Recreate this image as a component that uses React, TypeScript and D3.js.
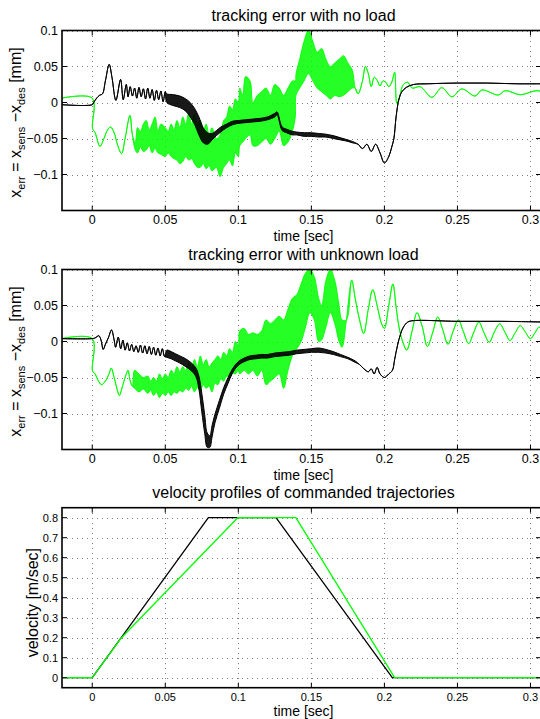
import * as d3 from "d3";

// [t, lo, hi?] : hi omitted where the trace is a single thin line
type Row = [number, number, number?];

const timeTicks = [0, 0.05, 0.1, 0.15, 0.2, 0.25, 0.3];
const timeLabels = ["0", "0.05", "0.1", "0.15", "0.2", "0.25", "0.3"];
const errTicks = [-0.1, -0.05, 0, 0.05, 0.1];
const errLabels = ["\u22120.1", "\u22120.05", "0", "0.05", "0.1"];
const velTicks = [0, 0.1, 0.2, 0.3, 0.4, 0.5, 0.6, 0.7, 0.8];
const velLabels = ["0", "0.1", "0.2", "0.3", "0.4", "0.5", "0.6", "0.7", "0.8"];

const timeLimits = [-0.0207, 0.3072];
const errLimits = [-0.15, 0.1];
const velLimits = [-0.05, 0.85];

// tracking error, no load
const noLoadGreen: Row[] = [
  [-0.021, 0.006], [0, 0.006], [0.0002, -0.036], [0.002, -0.042], [0.0053, -0.061],
  [0.008, -0.05], [0.0105, -0.038], [0.0125, -0.034], [0.015, -0.042], [0.0175, -0.06],
  [0.0201, -0.071], [0.0225, -0.05], [0.0258, -0.018], [0.0275, -0.045], [0.0295, -0.066, -0.055],
  [0.031, -0.07, -0.035], [0.033, -0.062, -0.04], [0.035, -0.068, -0.03], [0.037, -0.066, -0.025],
  [0.039, -0.06, -0.038], [0.041, -0.07, -0.03], [0.043, -0.064, -0.02], [0.045, -0.07, -0.04],
  [0.047, -0.072, -0.03], [0.05, -0.075, -0.035], [0.052, -0.07, -0.04], [0.054, -0.075, -0.03],
  [0.056, -0.078, -0.038], [0.058, -0.08, -0.025], [0.06, -0.085, -0.035], [0.062, -0.082, -0.02],
  [0.064, -0.075, -0.03], [0.066, -0.08, -0.015], [0.068, -0.078, -0.03], [0.07, -0.085, -0.015],
  [0.072, -0.09, -0.03], [0.074, -0.09, -0.025], [0.076, -0.085, -0.04], [0.078, -0.092, -0.03],
  [0.08, -0.088, -0.045], [0.082, -0.095, -0.035], [0.085, -0.09, -0.05], [0.0875, -0.103, -0.045],
  [0.09, -0.09, -0.025], [0.092, -0.085, -0.02], [0.094, -0.08, -0.005], [0.096, -0.088, -0.01],
  [0.098, -0.07, 0.005], [0.1, -0.075, 0.0], [0.101, -0.06, 0.02], [0.103, -0.055, 0.01],
  [0.105, -0.05, 0.036], [0.108, -0.045, 0.03], [0.11, -0.06, 0.0], [0.113, -0.06, 0.01],
  [0.116, -0.055, 0.015], [0.119, -0.05, 0.02], [0.122, -0.058, 0.01], [0.125, -0.05, 0.025],
  [0.128, -0.04, 0.02], [0.131, -0.06, 0.01], [0.134, -0.055, 0.02], [0.137, -0.04, 0.03],
  [0.139, -0.02, 0.03], [0.1395, 0.01, 0.04], [0.142, 0.02, 0.06], [0.145, 0.03, 0.085],
  [0.148, 0.04, 0.1], [0.151, 0.03, 0.085], [0.154, 0.02, 0.07], [0.157, 0.015, 0.075],
  [0.16, 0.01, 0.06], [0.163, 0.005, 0.05], [0.166, 0.01, 0.055], [0.169, 0.008, 0.06],
  [0.172, 0.01, 0.065], [0.175, 0.015, 0.055], [0.178, 0.02, 0.045], [0.18, 0.02],
  [0.182, 0.012], [0.185, 0.03], [0.187, 0.05], [0.189, 0.04], [0.191, 0.022], [0.193, 0.035],
  [0.195, 0.031], [0.197, 0.023], [0.199, 0.03], [0.201, 0.028], [0.203, 0.022], [0.205, 0.028],
  [0.207, 0.042], [0.2085, -0.001], [0.21, 0.005], [0.213, 0.025], [0.216, 0.028], [0.219, 0.02],
  [0.2245, 0.022], [0.2325, 0.0072], [0.2393, 0.0206], [0.2462, 0.008], [0.253, 0.0188],
  [0.2621, 0.009], [0.2667, 0.0174], [0.278, 0.0104], [0.2827, 0.0164], [0.293, 0.0108],
  [0.3044, 0.0164], [0.31, 0.013],
];

const noLoadBlack: Row[] = [
  [-0.021, -0.003], [0, -0.003], [0.001, 0.0], [0.003, 0.006], [0.005, 0.01], [0.007, 0.012],
  [0.009, 0.03], [0.0116, 0.053], [0.0135, 0.035], [0.0162, 0.003], [0.0194, 0.032],
  [0.0212, 0.004], [0.0233, 0.025], [0.0245, 0.008], [0.026, 0.022], [0.0275, 0.009],
  [0.029, 0.02], [0.0305, 0.006], [0.032, 0.021], [0.0335, 0.008], [0.035, 0.019], [0.0365, 0.005],
  [0.038, 0.02], [0.0395, 0.006], [0.041, 0.018], [0.0425, 0.003], [0.044, 0.017], [0.0455, 0.004],
  [0.047, 0.016], [0.0485, 0.001], [0.05, 0.015], [0.051, 0.0, 0.012], [0.055, -0.004, 0.011],
  [0.06, -0.007, 0.009], [0.064, -0.012, 0.005], [0.067, -0.02, 0.0], [0.07, -0.03, -0.008],
  [0.073, -0.045, -0.02], [0.076, -0.056, -0.035], [0.079, -0.058, -0.042], [0.082, -0.052, -0.043],
  [0.085, -0.046, -0.039], [0.088, -0.041, -0.034], [0.092, -0.035, -0.03], [0.096, -0.031, -0.026],
  [0.1, -0.029, -0.025], [0.105, -0.028, -0.024], [0.11, -0.027, -0.023], [0.115, -0.026, -0.022],
  [0.12, -0.024, -0.02], [0.125, -0.02, -0.015], [0.1265, -0.017, -0.013], [0.13, -0.039, -0.034],
  [0.133, -0.042, -0.037], [0.137, -0.045, -0.04], [0.14, -0.045, -0.041], [0.145, -0.047, -0.042],
  [0.15, -0.047, -0.042], [0.155, -0.048, -0.043], [0.16, -0.048, -0.044], [0.165, -0.05, -0.046],
  [0.17, -0.052, -0.049], [0.175, -0.054, -0.052], [0.178, -0.056, -0.054], [0.182, -0.058],
  [0.185, -0.064], [0.188, -0.058], [0.191, -0.068], [0.194, -0.058], [0.197, -0.07],
  [0.2, -0.084], [0.203, -0.075], [0.205, -0.062], [0.2065, -0.05], [0.208, -0.02],
  [0.21, 0.005], [0.212, 0.015], [0.215, 0.021], [0.22, 0.025], [0.23, 0.026], [0.25, 0.027],
  [0.27, 0.027], [0.29, 0.026], [0.31, 0.026],
];

// tracking error, unknown load
const loadGreen: Row[] = [
  [-0.021, 0.004], [0, 0.004], [0.0002, -0.041], [0.002, -0.045], [0.004, -0.054], [0.0064, -0.06],
  [0.009, -0.055], [0.0115, -0.045], [0.013, -0.037], [0.015, -0.05], [0.0175, -0.07],
  [0.0186, -0.075], [0.021, -0.06], [0.0235, -0.044], [0.0245, -0.04], [0.026, -0.055],
  [0.0275, -0.062], [0.029, -0.065, -0.04], [0.032, -0.07, -0.045], [0.035, -0.066, -0.05],
  [0.038, -0.072, -0.048], [0.04, -0.068, -0.055], [0.042, -0.075, -0.05], [0.044, -0.07, -0.055],
  [0.046, -0.078, -0.045], [0.048, -0.072, -0.052], [0.05, -0.075, -0.045], [0.052, -0.07, -0.05],
  [0.054, -0.075, -0.04], [0.056, -0.07, -0.045], [0.058, -0.072, -0.035], [0.06, -0.068, -0.042],
  [0.062, -0.07, -0.035], [0.064, -0.065, -0.04], [0.066, -0.068, -0.03], [0.068, -0.062, -0.038],
  [0.07, -0.07, -0.025], [0.072, -0.064, -0.035], [0.074, -0.068, -0.02], [0.076, -0.06, -0.032],
  [0.078, -0.065, -0.025], [0.08, -0.062, -0.035], [0.082, -0.07, -0.03], [0.084, -0.058, -0.025],
  [0.086, -0.06, -0.02], [0.088, -0.052, -0.025], [0.09, -0.055, -0.015], [0.092, -0.048, -0.02],
  [0.094, -0.05, -0.01], [0.096, -0.044, -0.015], [0.098, -0.045, 0.0], [0.1, -0.04, -0.005],
  [0.101, -0.045, 0.015], [0.104, -0.04, 0.018], [0.107, -0.045, 0.01], [0.11, -0.04, 0.012],
  [0.113, -0.048, 0.01], [0.116, -0.04, 0.015], [0.119, -0.06, 0.03], [0.122, -0.055, 0.025],
  [0.125, -0.05, 0.03], [0.128, -0.045, 0.035], [0.131, -0.065, 0.03], [0.134, -0.04, 0.045],
  [0.137, -0.02, 0.06], [0.14, -0.01, 0.065], [0.143, 0.0, 0.08], [0.146, 0.02, 0.095],
  [0.149, 0.04, 0.1], [0.152, 0.03, 0.09], [0.155, 0.0, 0.06], [0.157, 0.002, 0.05],
  [0.16, 0.02, 0.085], [0.163, 0.04, 0.1], [0.166, 0.025, 0.085], [0.169, 0.0, 0.05],
  [0.171, -0.008, 0.03], [0.174, 0.03], [0.1776, 0.085], [0.18, 0.06], [0.183, 0.03],
  [0.1858, 0.011], [0.189, 0.045], [0.192, 0.072], [0.195, 0.05], [0.198, 0.025], [0.2, 0.018],
  [0.203, 0.05], [0.2058, 0.08], [0.208, 0.048], [0.21, 0.02], [0.2125, 0.0], [0.2153, -0.012],
  [0.219, 0.015], [0.2223, 0.04], [0.226, 0.02], [0.2294, -0.007], [0.233, 0.012], [0.2365, 0.034],
  [0.24, 0.016], [0.2435, -0.004], [0.247, 0.014], [0.2506, 0.03], [0.254, 0.014], [0.2577, -0.003],
  [0.261, 0.012], [0.2647, 0.027], [0.268, 0.013], [0.2718, -0.001], [0.275, 0.012], [0.2789, 0.0245],
  [0.2825, 0.013], [0.286, 0.0014], [0.2895, 0.012], [0.293, 0.022], [0.2965, 0.013], [0.3, 0.004],
  [0.303, 0.012], [0.306, 0.02], [0.31, 0.01],
];

const loadBlack: Row[] = [
  [-0.021, 0.004], [0, 0.004], [0.002, 0.005], [0.0045, 0.008], [0.006, 0.002], [0.0075, -0.011],
  [0.009, -0.004], [0.011, 0.005], [0.0132, 0.016], [0.015, 0.002], [0.016, -0.008], [0.0178, 0.006],
  [0.0195, -0.01], [0.021, 0.002], [0.0225, -0.012], [0.024, -0.002], [0.0255, -0.013],
  [0.027, -0.004], [0.0285, -0.014], [0.03, -0.006], [0.0315, -0.015], [0.033, -0.005],
  [0.0345, -0.016], [0.036, -0.006], [0.0375, -0.017], [0.039, -0.007], [0.0405, -0.018],
  [0.042, -0.008], [0.0435, -0.019], [0.045, -0.009], [0.0465, -0.02], [0.048, -0.01],
  [0.0495, -0.021], [0.051, -0.022, -0.012], [0.054, -0.024, -0.014], [0.057, -0.027, -0.017],
  [0.06, -0.03, -0.02], [0.064, -0.035, -0.024], [0.068, -0.041, -0.03], [0.071, -0.049, -0.037],
  [0.073, -0.066, -0.048], [0.075, -0.098, -0.072], [0.077, -0.128, -0.102], [0.0787, -0.147, -0.127],
  [0.0805, -0.147, -0.131], [0.082, -0.133, -0.117], [0.084, -0.113, -0.101], [0.087, -0.093, -0.082],
  [0.09, -0.073, -0.064], [0.093, -0.058, -0.05], [0.096, -0.044, -0.038], [0.1, -0.033, -0.028],
  [0.104, -0.028, -0.023], [0.108, -0.025, -0.02], [0.112, -0.024, -0.019], [0.116, -0.023, -0.018],
  [0.12, -0.023, -0.018], [0.125, -0.021, -0.016], [0.13, -0.02, -0.015], [0.135, -0.019, -0.014],
  [0.14, -0.017, -0.012], [0.145, -0.016, -0.011], [0.15, -0.015, -0.01], [0.155, -0.015, -0.009],
  [0.16, -0.016, -0.011], [0.165, -0.018, -0.014], [0.17, -0.021, -0.018], [0.175, -0.024, -0.022],
  [0.18, -0.029, -0.027], [0.183, -0.032], [0.186, -0.038], [0.189, -0.042], [0.191, -0.038],
  [0.193, -0.045], [0.195, -0.036], [0.197, -0.045], [0.2, -0.05], [0.203, -0.045], [0.2055, -0.04],
  [0.207, -0.025], [0.209, -0.005], [0.211, 0.01], [0.213, 0.02], [0.216, 0.027], [0.22, 0.029],
  [0.25, 0.028], [0.28, 0.028], [0.31, 0.027],
];

// commanded velocity profiles
const velBlack: Row[] = [
  [-0.021, 0], [0, 0], [0.0795, 0.8], [0.1258, 0.8], [0.2054, 0], [0.31, 0],
];
const velGreen: Row[] = [
  [-0.021, 0], [0, 0], [0.02, 0.2], [0.0996, 0.8], [0.1394, 0.8], [0.207, 0], [0.31, 0],
];

const FONT = "'Liberation Sans', Arial, Helvetica, sans-serif";
const GREEN = "#00ff00";
const LEFT = 62;
const RIGHT = 541;
const PH = 180;

type Series = { rows: Row[]; color: string; width: number; fillOpacity: number; smooth: boolean };

type PanelProps = {
  id: string;
  top: number;
  title: string;
  yLimits: number[];
  yTicks: number[];
  yLabels: string[];
  tickSize: number;
  xlabelGap: number;
  series: Series[];
  ylabel: React.ReactNode;
};

function Panel({ id, top, title, yLimits, yTicks, yLabels, tickSize, xlabelGap, series, ylabel }: PanelProps) {
  const bottom = top + PH;
  const x = d3.scaleLinear().domain(timeLimits).range([LEFT, RIGHT]);
  const y = d3.scaleLinear().domain(yLimits).range([bottom, top]);
  const cx = (LEFT + 545) / 2;

  const areaOf = (s: Series) =>
    d3
      .area<Row>()
      .x((d) => x(d[0]))
      .y0((d) => y(d[1]))
      .y1((d) => y(d[2] ?? d[1]))
      .curve(s.smooth ? d3.curveCatmullRom.alpha(0.5) : d3.curveLinear)(s.rows) || "";

  return (
    <g fontFamily={FONT}>
      <clipPath id={id}>
        <rect x={LEFT} y={top} width={RIGHT - LEFT} height={PH} />
      </clipPath>

      {/* dotted grid */}
      <g stroke="#808080" strokeWidth={1} strokeDasharray="1,4" shapeRendering="crispEdges">
        {timeTicks.map((t) => (
          <line key={"gx" + t} x1={Math.round(x(t)) + 0.5} x2={Math.round(x(t)) + 0.5} y1={top} y2={bottom} />
        ))}
        {yTicks.map((v) => (
          <line key={"gy" + v} x1={LEFT} x2={RIGHT} y1={Math.round(y(v)) + 0.5} y2={Math.round(y(v)) + 0.5} />
        ))}
      </g>

      <g clipPath={`url(#${id})`}>
        {series.map((s, i) => (
          <path
            key={i}
            d={areaOf(s)}
            fill={s.color}
            fillOpacity={s.fillOpacity}
            stroke={s.color}
            strokeWidth={s.width}
            strokeLinejoin="round"
          />
        ))}
      </g>

      {/* box and inward ticks */}
      <rect x={LEFT} y={top} width={RIGHT - LEFT} height={PH} fill="none" stroke="#000" strokeWidth={1.6} />
      <g stroke="#000" strokeWidth={1}>
        {timeTicks.map((t) => (
          <g key={"tx" + t}>
            <line x1={x(t)} x2={x(t)} y1={bottom} y2={bottom - 5} />
            <line x1={x(t)} x2={x(t)} y1={top} y2={top + 5} />
          </g>
        ))}
        {yTicks.map((v) => (
          <g key={"ty" + v}>
            <line x1={LEFT} x2={LEFT + 5} y1={y(v)} y2={y(v)} />
            <line x1={RIGHT} x2={RIGHT - 5} y1={y(v)} y2={y(v)} />
          </g>
        ))}
      </g>

      {/* tick labels */}
      <g fontSize={tickSize} fill="#000">
        {timeTicks.map((t, i) => (
          <text key={"lx" + t} x={x(t)} y={bottom + 13.5} textAnchor="middle">
            {timeLabels[i]}
          </text>
        ))}
        {yTicks.map((v, i) => (
          <text key={"ly" + v} x={LEFT - 4} y={y(v)} dy="0.36em" textAnchor="end">
            {yLabels[i]}
          </text>
        ))}
      </g>

      <text x={cx} y={top - 10} textAnchor="middle" fontSize={16}>
        {title}
      </text>
      <text x={cx} y={bottom + xlabelGap} textAnchor="middle" fontSize={14}>
        time [sec]
      </text>
      {ylabel}
    </g>
  );
}

function ErrLabel({ cy }: { cy: number }) {
  return (
    <text transform={`translate(21,${cy}) rotate(-90)`} textAnchor="middle" fontSize={16} fontFamily={FONT}>
      x<tspan fontSize={11} dy={4}>err</tspan>
      <tspan dy={-4}> = x</tspan>
      <tspan fontSize={11} dy={4}>sens</tspan>
      <tspan dy={-4}> {"\u2212"}x</tspan>
      <tspan fontSize={11} dy={4}>des</tspan>
      <tspan dy={-4}> [mm]</tspan>
    </text>
  );
}

export default function App() {
  const tops = [30.5, 269.5, 507.7];
  return (
    <svg
      width={540}
      height={719}
      viewBox="0 0 540 719"
      style={{ position: "absolute", left: 0, top: 0, background: "#fff" }}
    >
      <rect width={540} height={719} fill="#fff" />
      <Panel
        id="clipA"
        top={tops[0]}
        title="tracking error with no load"
        yLimits={errLimits}
        yTicks={errTicks}
        yLabels={errLabels}
        tickSize={12.5}
        xlabelGap={30}
        series={[
          { rows: noLoadGreen, color: GREEN, width: 0.9, fillOpacity: 0.85, smooth: true },
          { rows: noLoadBlack, color: "#000", width: 1, fillOpacity: 0.9, smooth: true },
        ]}
        ylabel={<ErrLabel cy={tops[0] + 92} />}
      />
      <Panel
        id="clipB"
        top={tops[1]}
        title="tracking error with unknown load"
        yLimits={errLimits}
        yTicks={errTicks}
        yLabels={errLabels}
        tickSize={12.5}
        xlabelGap={30}
        series={[
          { rows: loadGreen, color: GREEN, width: 0.9, fillOpacity: 0.85, smooth: true },
          { rows: loadBlack, color: "#000", width: 1, fillOpacity: 0.9, smooth: true },
        ]}
        ylabel={<ErrLabel cy={tops[1] + 92} />}
      />
      <Panel
        id="clipC"
        top={tops[2]}
        title="velocity profiles of commanded trajectories"
        yLimits={velLimits}
        yTicks={velTicks}
        yLabels={velLabels}
        tickSize={11}
        xlabelGap={28}
        series={[
          { rows: velBlack, color: "#000", width: 1.3, fillOpacity: 1, smooth: false },
          { rows: velGreen, color: GREEN, width: 1.3, fillOpacity: 1, smooth: false },
        ]}
        ylabel={
          <text
            transform={`translate(38,${tops[2] + 95}) rotate(-90)`}
            textAnchor="middle"
            fontSize={16}
            fontFamily={FONT}
          >
            velocity [m/sec]
          </text>
        }
      />
    </svg>
  );
}
